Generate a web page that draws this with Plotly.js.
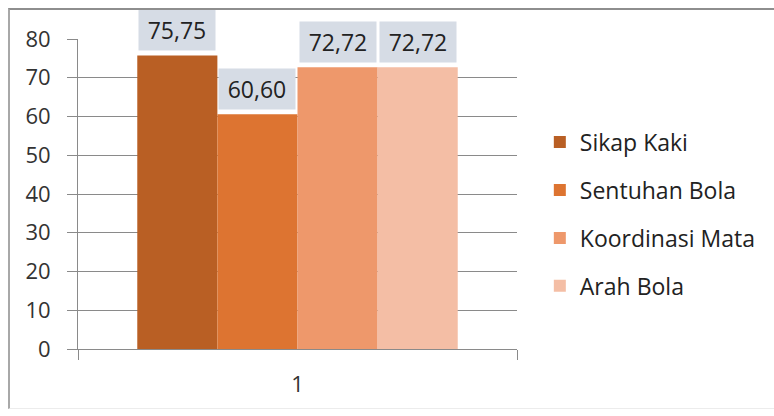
<!DOCTYPE html>
<html>
<head>
<meta charset="utf-8">
<script src="https://cdn.plot.ly/plotly-3.0.1.min.js"></script>
<style>
  html, body { margin: 0; padding: 0; background: #ffffff; }
  #wrap { position: relative; width: 774px; height: 416px; }
  #chart { position: absolute; left: 0; top: 0; width: 774px; height: 416px; }
  #frame {
    position: absolute; left: 8px; top: 8px; width: 780px; height: 398px;
    border-top: 2px solid #8e8e8e; border-left: 2px solid #a8a8a8;
    border-bottom: 1px solid #ececec; pointer-events: none;
  }
</style>
</head>
<body>
<div id="wrap">
  <div id="chart"></div>
  <div id="frame"></div>
</div>
<script>
// Skor rata-rata per aspek
const categories = ['1'];
const seriesNames = ['Sikap Kaki', 'Sentuhan Bola', 'Koordinasi Mata', 'Arah Bola'];
const seriesValues = [75.75, 60.60, 72.72, 72.72];
const seriesLabels = ['75,75', '60,60', '72,72', '72,72'];
const seriesColors = ['#b95f24', '#dd7431', '#ee986b', '#f4bea5'];
const yTicks = [0, 10, 20, 30, 40, 50, 60, 70, 80];

const FONT = 'Open Sans, Noto Sans, sans-serif';
const TEXT = '#333333';
const LINE = '#8a8a8a';
const BARGAP = 0.27;

const traces = seriesNames.map((name, i) => ({
  type: 'bar',
  name: name,
  x: categories,
  y: [seriesValues[i]],
  marker: { color: seriesColors[i], line: { width: 0 } },
  legendgroup: 'g' + i,
  hoverinfo: 'skip'
}));

// value boxes above each bar, centred on the bar's slot within the group
const n = seriesNames.length;
const barW = (1 - BARGAP) / n;
const annotations = seriesValues.map((v, i) => ({
  xref: 'x', yref: 'y',
  x: (i - (n - 1) / 2) * barW,
  y: v,
  yanchor: 'bottom',
  yshift: 4,
  text: seriesLabels[i],
  showarrow: false,
  bgcolor: '#d6dce5',
  width: 74,
  height: 38,
  font: { family: FONT, size: 23, color: '#222222' }
}));

const layout = {
  width: 774,
  height: 416,
  margin: { l: 78, r: 257, t: 39, b: 67 },
  paper_bgcolor: 'rgba(0,0,0,0)',
  plot_bgcolor: 'rgba(0,0,0,0)',
  font: { family: FONT, size: 22, color: TEXT },
  barmode: 'group',
  bargap: BARGAP,
  bargroupgap: 0,
  showlegend: true,
  legend: {
    x: 1.052, xanchor: 'left',
    y: 0.435, yanchor: 'middle',
    traceorder: 'grouped',
    tracegroupgap: 15,
    font: { family: FONT, size: 23, color: '#222222' },
    bgcolor: 'rgba(0,0,0,0)'
  },
  xaxis: {
    type: 'category',
    range: [-0.5, 0.5],
    showgrid: false,
    showline: true,
    linecolor: LINE,
    linewidth: 1,
    ticks: 'outside',
    tickson: 'boundaries',
    ticklen: 10,
    tickcolor: LINE,
    ticklabelstandoff: 16,
    tickfont: { family: FONT, size: 22, color: TEXT },
    zeroline: false,
    fixedrange: true
  },
  yaxis: {
    range: [0, 80],
    tickvals: yTicks,
    ticktext: yTicks.map(String),
    showgrid: true,
    gridcolor: LINE,
    gridwidth: 1,
    showline: true,
    linecolor: LINE,
    linewidth: 1,
    ticks: 'outside',
    ticklen: 10,
    tickcolor: LINE,
    ticklabelstandoff: 12,
    tickfont: { family: FONT, size: 22, color: TEXT },
    zeroline: false,
    fixedrange: true
  },
  annotations: annotations
};

Plotly.newPlot('chart', traces, layout, { staticPlot: true, displayModeBar: false });
</script>
</body>
</html>
